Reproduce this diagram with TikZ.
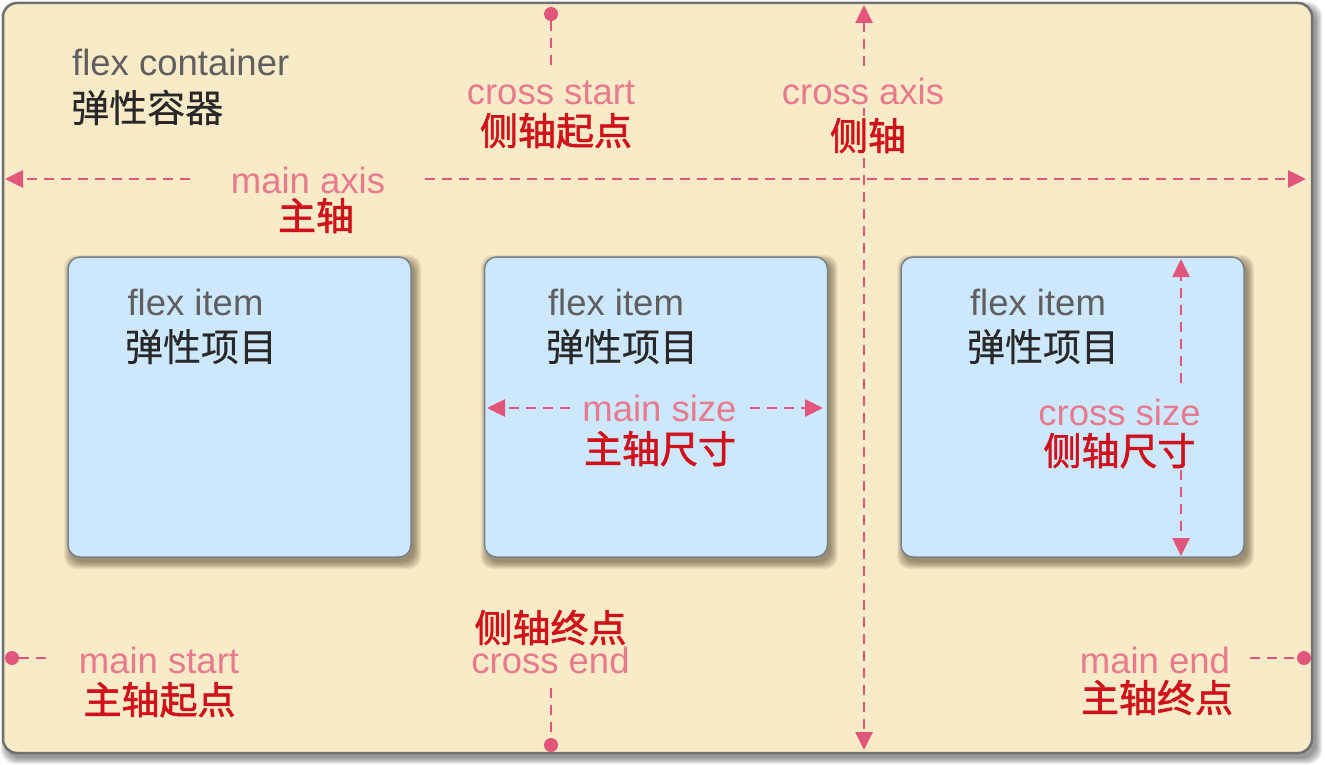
\documentclass[tikz,border=0pt]{standalone}
\usepackage{fontspec}
\setmainfont{Liberation Sans}
\newfontfamily\cjk[FakeBold=0.4]{Noto Sans CJK SC}
\newfontfamily\cjkred[FakeBold=1.6]{Noto Sans CJK SC}
\usetikzlibrary{arrows.meta}

\definecolor{beige}{RGB}{249,235,200}
\definecolor{itemblue}{RGB}{205,232,252}
\definecolor{axispink}{RGB}{226,86,124}
\definecolor{labelpink}{RGB}{232,122,142}
\definecolor{labelred}{RGB}{208,16,26}
\definecolor{labelgray}{RGB}{95,95,95}
\definecolor{labeldark}{RGB}{40,40,40}
\definecolor{framegray}{RGB}{112,112,112}
\definecolor{itemframe}{RGB}{120,128,138}
\definecolor{shadowcol}{RGB}{60,50,25}

\tikzset{
  en/.style={font=\fontsize{36.5}{40}\selectfont, inner sep=0pt, anchor=base, text depth=0pt},
  zh/.style={font=\fontsize{38}{42}\selectfont\cjk, inner sep=0pt, anchor=base, text depth=0pt, text height=30pt},
  engray/.style={en, text=labelgray},
  enpink/.style={en, text=labelpink},
  zhdark/.style={zh, text=labeldark},
  zhred/.style={zh, text=labelred, font=\fontsize{38}{42}\selectfont\cjkred},
  container/.style={draw=framegray, line width=2.5pt, fill=beige, rounded corners=14pt,
    minimum width=1309pt, minimum height=750pt, inner sep=0pt},
  itembox/.style={draw=itemframe, line width=1.5pt, fill=itemblue, rounded corners=12pt,
    minimum width=343pt, minimum height=300pt, inner sep=0pt},
  axisline/.style={draw=axispink, line width=2.6pt, dash pattern=on 10pt off 7pt},
  tipend/.style={-{Triangle[length=18pt,width=17pt]}},
  dotmark/.style={circle, fill=axispink, inner sep=0pt, minimum size=14pt},
}

\begin{document}
\begin{tikzpicture}[x=1pt,y=-1pt]
\useasboundingbox (0,0) rectangle (1325,765);

% container shadow (soft)
\foreach \r in {0,1,...,6}{
  \fill[black, opacity=0.07, rounded corners=14pt]
    (3+4-\r,3+5-\r) rectangle (1312+4+\r,753+5+\r);
}
\node[container] (box) at (657.5,378) {};

% item shadows (soft)
\foreach \cx in {239.5,656,1072.5}{
  \foreach \r in {0,1,...,7}{
    \fill[shadowcol, opacity=0.08, rounded corners=12pt]
      (\cx-171.5+3-\r,257+5-\r) rectangle (\cx+171.5+3+\r,557+5+\r);
  }
}
\node[itembox] (item1) at (239.5,407) {};
\node[itembox] (item2) at (656,407) {};
\node[itembox] (item3) at (1072.5,407) {};

% container labels
\node[engray, anchor=base west] (fc) at (72,76) {flex container};
\node[zhdark, anchor=base west] (fczh) at (71,122) {弹性容器};

% item labels
\node[engray] (fi1) at (195.5,315) {flex item};
\node[zhdark] (fi1zh) at (201,361) {弹性项目};
\node[engray] (fi2) at (616,315) {flex item};
\node[zhdark] (fi2zh) at (622,361) {弹性项目};
\node[engray] (fi3) at (1038,315) {flex item};
\node[zhdark] (fi3zh) at (1043,361) {弹性项目};

% axis labels
\node[enpink] (cs) at (551,105) {cross start};
\node[zhred] (cszh) at (556,145) {侧轴起点};
\node[enpink] (ca) at (863,105) {cross axis};
\node[zhred] (cazh) at (868,150) {侧轴};
\node[enpink] (ma) at (308,193) {main axis};
\node[zhred] (mazh) at (316,230) {主轴};
\node[enpink] (msz) at (659.5,421) {main size};
\node[zhred] (mszzh) at (660,463) {主轴尺寸};
\node[enpink] (csz) at (1119.5,425) {cross size};
\node[zhred] (cszzh) at (1119.5,465) {侧轴尺寸};
\node[zhred] (cezh) at (550.5,642) {侧轴终点};
\node[enpink] (ce) at (550.5,673) {cross end};
\node[enpink] (mst) at (159,673) {main start};
\node[zhred] (mstzh) at (159.5,714) {主轴起点};
\node[enpink] (me) at (1155,673) {main end};
\node[zhred] (mezh) at (1157,712) {主轴终点};

% dots
\node[dotmark] (csdot) at (551,14) {};
\node[dotmark] (cedot) at (551,745) {};
\node[dotmark] (msdot) at (12,658) {};
\node[dotmark] (medot) at (1304,658) {};

% coordinates
\coordinate (cs1) at (551,68);
\coordinate (ce1) at (551,688);
\coordinate (ms1) at (48,658);
\coordinate (me1) at (1250,658);
\coordinate (maL) at (5,179);
\coordinate (maL1) at (190,179);
\coordinate (maR1) at (425,179);
\coordinate (maR) at (1306,179);
\coordinate (caT) at (864,5);
\coordinate (ca1) at (864,66);
\coordinate (ca2) at (864,108);
\coordinate (ca3) at (864,116);
\coordinate (ca4) at (864,158);
\coordinate (caB) at (864,750);
\coordinate (mszL) at (487,408);
\coordinate (mszL1) at (570,408);
\coordinate (mszR1) at (750,408);
\coordinate (mszR) at (823,408);
\coordinate (cszT) at (1181,259);
\coordinate (cszT1) at (1181,383);
\coordinate (cszB1) at (1181,470);
\coordinate (cszB) at (1181,556);

% connectors
\draw[axisline] (csdot) -- (cs1);
\draw[axisline] (ce1) -- (cedot);
\draw[axisline] (msdot) -- (ms1);
\draw[axisline] (me1) -- (medot);
\draw[axisline, tipend] (maL1) -- (maL);
\draw[axisline, tipend] (maR1) -- (maR);
\draw[axisline, tipend] (ca1) -- (caT);
\draw[axisline] (ca2) -- (ca3);
\draw[axisline, tipend] (ca4) -- (caB);
\draw[axisline, tipend] (mszL1) -- (mszL);
\draw[axisline, tipend] (mszR1) -- (mszR);
\draw[axisline, tipend] (cszT1) -- (cszT);
\draw[axisline, tipend] (cszB1) -- (cszB);
\end{tikzpicture}
\end{document}
